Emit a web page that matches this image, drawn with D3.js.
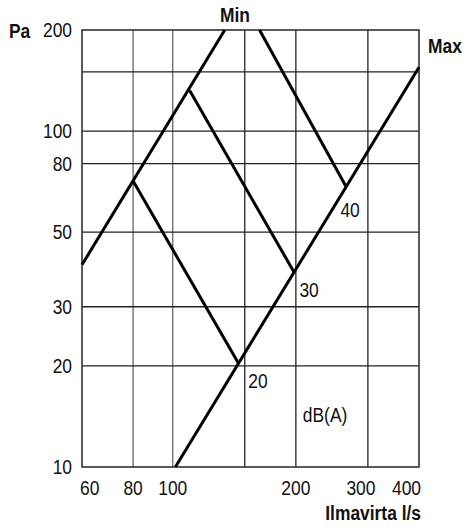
<!DOCTYPE html>
<html>
<head>
<meta charset="utf-8">
<script src="https://cdn.jsdelivr.net/npm/d3@7"></script>
<style>
  body { margin: 0; background: #fff; }
  text { font-family: "Liberation Sans", Arial, sans-serif; fill: #111; font-size: 20px; }
</style>
</head>
<body>
<div id="chart"></div>
<script>
// air flow l/s (x) against pressure Pa (y), both log
var xGrid = [80, 100, 150, 200, 300];
var yGrid = [20, 30, 50, 80, 100, 150];
var xTicks = [60, 80, 100, 200, 300, 400];
var yTicks = [10, 20, 30, 50, 80, 100, 200];

// lines as [flow, pressure] points
var minLine = [[60, 40], [134, 200]];
var maxLine = [[101.5, 10], [400, 155]];
var db20 = [[80, 71], [145, 20.3]];
var db30 = [[110, 132], [198, 38]];
var db40 = [[163, 200], [265, 68.5]];

var dbLabels = ["20", "30", "40"];
var dbLabelAt = [[153, 17.2], [204, 32.1], [257, 55.6]];

var width = 466, height = 530;
var squeeze = 0.87; // original lettering is a condensed face

var x = d3.scaleLog().domain([60, 400]).range([82, 419]);
var y = d3.scaleLog().domain([10, 200]).range([467, 30]);

var svg = d3.select("#chart").append("svg")
    .attr("width", width)
    .attr("height", height);

function label(px, py, str, anchor, bold) {
    return svg.append("g")
        .attr("transform", "translate(" + px + "," + py + ") scale(" + squeeze + ",1)")
        .append("text")
        .attr("text-anchor", anchor || "start")
        .style("font-weight", bold ? "bold" : "normal")
        .text(str);
}

// grid
svg.selectAll(".vgrid")
    .data(xGrid)
    .enter().append("line")
    .attr("x1", function(d) { return x(d); })
    .attr("x2", function(d) { return x(d); })
    .attr("y1", y(10))
    .attr("y2", y(200))
    .style("stroke", function(d) { return d < 150 ? "#666" : "#222"; })
    .style("stroke-width", 1.3);

svg.selectAll(".hgrid")
    .data(yGrid)
    .enter().append("line")
    .attr("x1", x(60))
    .attr("x2", x(400))
    .attr("y1", function(d) { return y(d); })
    .attr("y2", function(d) { return y(d); })
    .style("stroke", "#222")
    .style("stroke-width", 1.3);

svg.append("rect")
    .attr("x", x(60))
    .attr("y", y(200))
    .attr("width", x(400) - x(60))
    .attr("height", y(10) - y(200))
    .style("fill", "none")
    .style("stroke", "#333")
    .style("stroke-width", 1.6);

// curves
var line = d3.line()
    .x(function(d) { return x(d[0]); })
    .y(function(d) { return y(d[1]); });

svg.selectAll(".curve")
    .data([minLine, maxLine, db20, db30, db40])
    .enter().append("path")
    .attr("d", line)
    .style("fill", "none")
    .style("stroke", "#000")
    .style("stroke-width", 3);

dbLabels.forEach(function(d, i) {
    label(x(dbLabelAt[i][0]), y(dbLabelAt[i][1]), d);
});
label(x(208), y(13.6), "dB(A)");

// tick labels
xTicks.forEach(function(d) {
    var anchor = d == 60 ? "start" : d == 400 ? "end" : "middle";
    var dx = d == 60 ? -2 : d == 400 ? 2 : d == 300 ? -7 : 0;
    label(x(d) + dx, 495, d, anchor);
});

yTicks.forEach(function(d) {
    label(72, y(d) + 7, d, "end");
});

label(9, 38, "Pa", "start", true);
label(235, 22, "Min", "middle", true);
label(428, 53, "Max", "start", true);
label(421, 520, "Ilmavirta l/s", "end", true);
</script>
</body>
</html>
